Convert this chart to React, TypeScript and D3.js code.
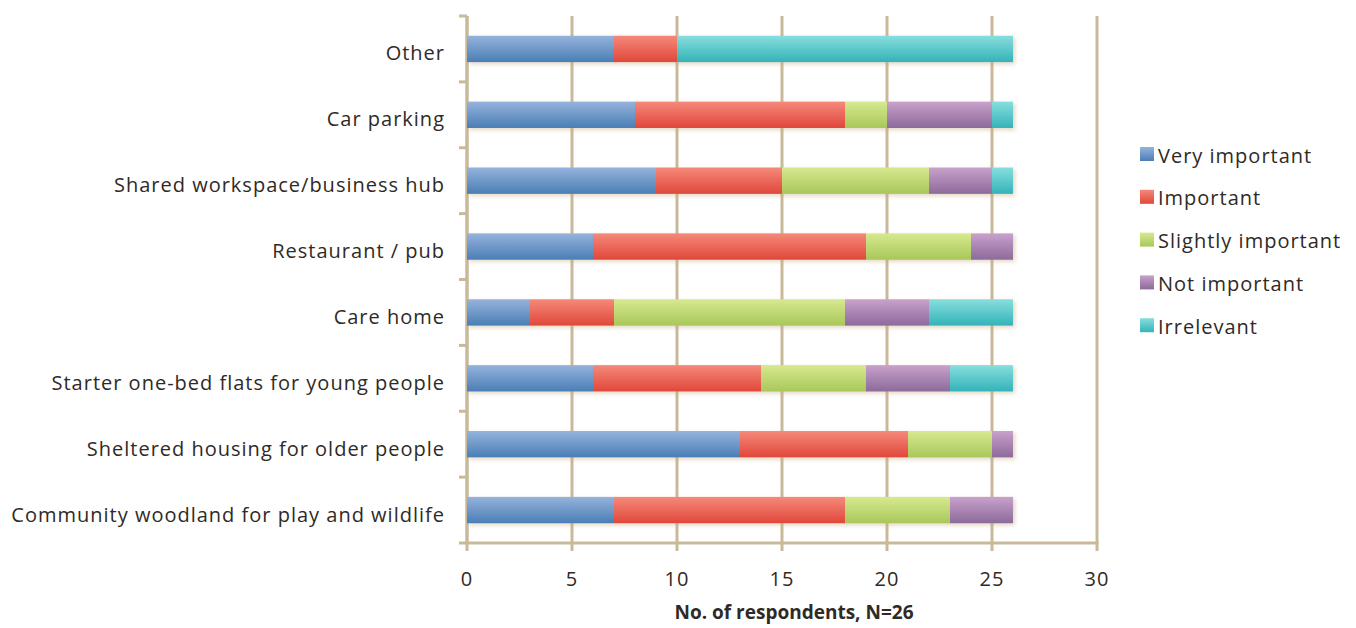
import React from "react";
import * as d3 from "d3";

const categories = [
  "Other",
  "Car parking",
  "Shared workspace/business hub",
  "Restaurant / pub",
  "Care home",
  "Starter one-bed flats for young people",
  "Sheltered housing for older people",
  "Community woodland for play and wildlife",
];

const seriesNames = ["Very important", "Important", "Slightly important", "Not important", "Irrelevant"];

const veryImportant = [7, 8, 9, 6, 3, 6, 13, 7];
const important = [3, 10, 6, 13, 4, 8, 8, 11];
const slightlyImportant = [0, 2, 7, 5, 11, 5, 4, 5];
const notImportant = [0, 5, 3, 2, 4, 4, 1, 3];
const irrelevant = [16, 1, 1, 0, 4, 3, 0, 0];

const xTicks = [0, 5, 10, 15, 20, 25, 30];

const colors = [
  { top: "#95b3dc", bottom: "#4a7eb5" },
  { top: "#f5897a", bottom: "#e0473a" },
  { top: "#d6e98f", bottom: "#a9c75a" },
  { top: "#c9a1cc", bottom: "#8c6a9a" },
  { top: "#88dede", bottom: "#33b3b8" },
];

const W = 1356;
const H = 628;
const margin = { left: 467, right: 259, top: 16, bottom: 85 };
const FONT = "'Open Sans', sans-serif";
const TEXT = "#2f2a25";
const GRID = "#c9b999";

export default function App() {
  const values = [veryImportant, important, slightlyImportant, notImportant, irrelevant];
  const rows = categories.map((c, i) => {
    const o: any = { category: c };
    seriesNames.forEach((s, k) => (o[s] = values[k][i]));
    return o;
  });
  const stacked = d3.stack<any>().keys(seriesNames)(rows);

  const x = d3.scaleLinear().domain([0, 30]).range([margin.left, W - margin.right]);
  const y = d3
    .scaleBand<string>()
    .domain(categories)
    .range([margin.top, H - margin.bottom])
    .paddingInner(0.6)
    .paddingOuter(0.3);
  const bottom = H - margin.bottom;
  const step = y.step();

  return (
    <svg width={W} height={H} style={{ position: "absolute", left: 0, top: 0, background: "#fff" }}>
      <defs>
        {colors.map((c, i) => (
          <linearGradient key={i} id={`g${i}`} x1="0" y1="0" x2="0" y2="1">
            <stop offset="0" stopColor={c.top} />
            <stop offset="1" stopColor={c.bottom} />
          </linearGradient>
        ))}
        <filter id="shadow" x="-5%" y="-30%" width="110%" height="170%">
          <feGaussianBlur in="SourceAlpha" stdDeviation="2" />
          <feOffset dx="1.5" dy="2" result="b" />
          <feFlood floodColor="#bfa77a" floodOpacity="0.45" />
          <feComposite in2="b" operator="in" />
          <feMerge>
            <feMergeNode />
            <feMergeNode in="SourceGraphic" />
          </feMerge>
        </filter>
      </defs>

      {/* vertical gridlines */}
      {xTicks.map((t) => (
        <line key={t} x1={x(t)} x2={x(t)} y1={margin.top} y2={bottom} stroke={GRID} strokeWidth={3} />
      ))}

      {/* category axis with tick marks between bands */}
      <line x1={x(0)} x2={x(0)} y1={margin.top} y2={bottom} stroke={GRID} strokeWidth={3} />
      {d3.range(categories.length + 1).map((i) => (
        <line
          key={i}
          x1={x(0) - 8}
          x2={x(0)}
          y1={margin.top + i * step}
          y2={margin.top + i * step}
          stroke={GRID}
          strokeWidth={3}
        />
      ))}
      <line x1={x(0) - 1.5} x2={x(30) + 1.5} y1={bottom} y2={bottom} stroke={GRID} strokeWidth={3} />
      {xTicks.map((t) => (
        <line key={`t${t}`} x1={x(t)} x2={x(t)} y1={bottom} y2={bottom + 8} stroke={GRID} strokeWidth={3} />
      ))}

      {/* stacked bars */}
      <g filter="url(#shadow)">
        {stacked.map((s, k) =>
          s.map((d, i) =>
            d[1] - d[0] > 0 ? (
              <rect
                key={`${k}-${i}`}
                x={x(d[0])}
                y={y(categories[i])}
                width={x(d[1]) - x(d[0])}
                height={y.bandwidth()}
                fill={`url(#g${k})`}
              />
            ) : null
          )
        )}
      </g>

      {/* category labels */}
      {categories.map((c) => (
        <text
          key={c}
          x={x(0) - 22}
          y={(y(c) as number) + y.bandwidth() / 2 + 4}
          textAnchor="end"
          dominantBaseline="central"
          fontFamily={FONT}
          fontSize={20}
          letterSpacing={1}
          fill={TEXT}
        >
          {c}
        </text>
      ))}

      {/* x tick labels */}
      {xTicks.map((t) => (
        <text
          key={`l${t}`}
          x={x(t)}
          y={bottom + 35}
          dominantBaseline="central"
          textAnchor="middle"
          fontFamily={FONT}
          fontSize={20}
          letterSpacing={1}
          fill={TEXT}
        >
          {t}
        </text>
      ))}
      <text
        x={(x(0) + x(30)) / 2 + 12}
        y={bottom + 69}
        textAnchor="middle"
        dominantBaseline="central"
        fontFamily={FONT}
        fontSize={19}
        fontWeight="bold"
        fill={TEXT}
      >
        No. of respondents, N=26
      </text>

      {/* legend */}
      {seriesNames.map((s, k) => (
        <g key={s} transform={`translate(1140, ${154 + k * 42.8})`}>
          <rect x={0} y={-7} width={14} height={14} fill={`url(#g${k})`} />
          <text
            x={18}
            y={1}
            dominantBaseline="central"
            fontFamily={FONT}
            fontSize={20}
            letterSpacing={1}
            fill={TEXT}
          >
            {s}
          </text>
        </g>
      ))}
    </svg>
  );
}
